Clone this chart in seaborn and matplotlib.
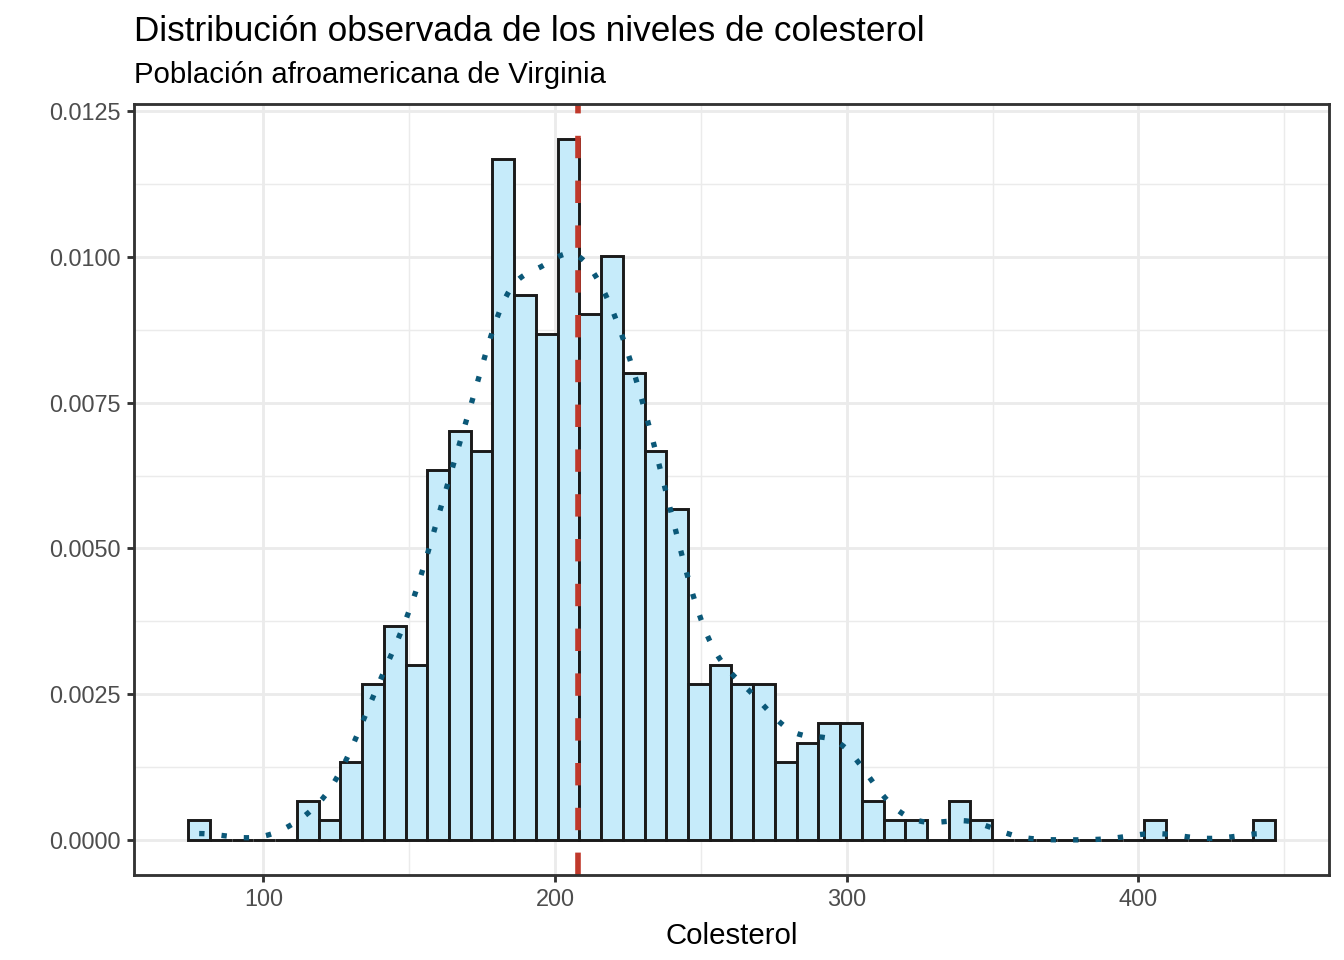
import numpy as np
import pandas as pd
import matplotlib
matplotlib.use("Agg")
import matplotlib.pyplot as plt
import seaborn as sns
from matplotlib.ticker import FixedLocator, FormatStrFormatter

# ---- data ----
chol_min = 78.0
chol_max = 443.0
n_bins = 50
bin_counts = [1, 0, 0, 0, 0, 2, 1, 4, 8, 11,
              9, 19, 21, 20, 35, 28, 26, 36, 27, 30,
              24, 20, 17, 8, 9, 8, 8, 4, 5, 6,
              6, 2, 1, 1, 0, 2, 1, 0, 0, 0,
              0, 0, 0, 0, 1, 0, 0, 0, 0, 1]
mean_chol = 207.9
x_ticks = [100, 200, 300, 400]
y_ticks = [0.0, 0.0025, 0.005, 0.0075, 0.01, 0.0125]
title = "Distribución observada de los niveles de colesterol"
subtitle = "Población afroamericana de Virginia"
x_label = "Colesterol"

# ---- build sample from bins ----
width = (chol_max - chol_min) / (n_bins - 1)
centers = chol_min + width * np.arange(n_bins)
edges = np.concatenate([centers - width / 2, [centers[-1] + width / 2]])
chol = np.repeat(centers, bin_counts)
df = pd.DataFrame({"chol": chol})

# R's bw.nrd0 bandwidth
sd = chol.std(ddof=1)
iqr = np.subtract(*np.percentile(chol, [75, 25]))
h = 0.9 * min(sd, iqr / 1.34) * len(chol) ** (-0.2)

sns.set_theme(style="white")
plt.rcParams["font.family"] = ["Liberation Sans", "DejaVu Sans"]

fig = plt.figure(figsize=(7, 5), dpi=192)
ax = fig.add_axes([134 / 1344, 1 - 875 / 960, (1329 - 134) / 1344, (875 - 104) / 960])

sns.histplot(data=df, x="chol", bins=edges, stat="density", ax=ax,
             color="#C6EBFA", edgecolor="#1a1a1a", linewidth=1.1, alpha=1,
             zorder=3)
sns.kdeplot(data=df, x="chol", bw_method=h / sd, cut=0, gridsize=512, ax=ax,
            color="#0b5878", linewidth=2.0, linestyle=(0, (1, 3.2)), zorder=4)
ax.axvline(mean_chol, color="#C0392B", linewidth=2.1, linestyle=(0, (4, 4)),
           zorder=5)

# limits with ggplot-like expansion
xr = edges[-1] - edges[0]
ax.set_xlim(edges[0] - 0.05 * xr, edges[-1] + 0.05 * xr)
ymax = max(bin_counts) / (len(chol) * width)
ax.set_ylim(-0.05 * ymax, 1.05 * ymax)

ax.xaxis.set_major_locator(FixedLocator(x_ticks))
ax.yaxis.set_major_locator(FixedLocator(y_ticks))
ax.yaxis.set_major_formatter(FormatStrFormatter("%.4f"))
ax.xaxis.set_minor_locator(FixedLocator([150, 250, 350, 450]))
ax.yaxis.set_minor_locator(FixedLocator([0.00125, 0.00375, 0.00625, 0.00875, 0.01125]))

ax.grid(which="major", color="#EBEBEB", linewidth=1.07, zorder=0)
ax.grid(which="minor", color="#EBEBEB", linewidth=0.53, zorder=0)
ax.set_axisbelow(True)

for s in ax.spines.values():
    s.set_color("#333333")
    s.set_linewidth(1.07)
    s.set_visible(True)
    s.set_zorder(6)

ax.tick_params(axis="both", which="major", length=2.75, width=1.07, color="#333333",
               labelsize=8.8, labelcolor="#4D4D4D", pad=2.2,
               bottom=True, left=True)
ax.tick_params(axis="both", which="minor", length=0)

ax.set_xlabel(x_label, fontsize=11, color="black", labelpad=4)
ax.set_ylabel("")

fig.text(134 / 1344, 1 - 41 / 960, title, fontsize=13.2, color="black",
         ha="left", va="baseline")
fig.text(134 / 1344, 1 - 83 / 960, subtitle, fontsize=11, color="black",
         ha="left", va="baseline")

fig.savefig("out.png", dpi=192)
